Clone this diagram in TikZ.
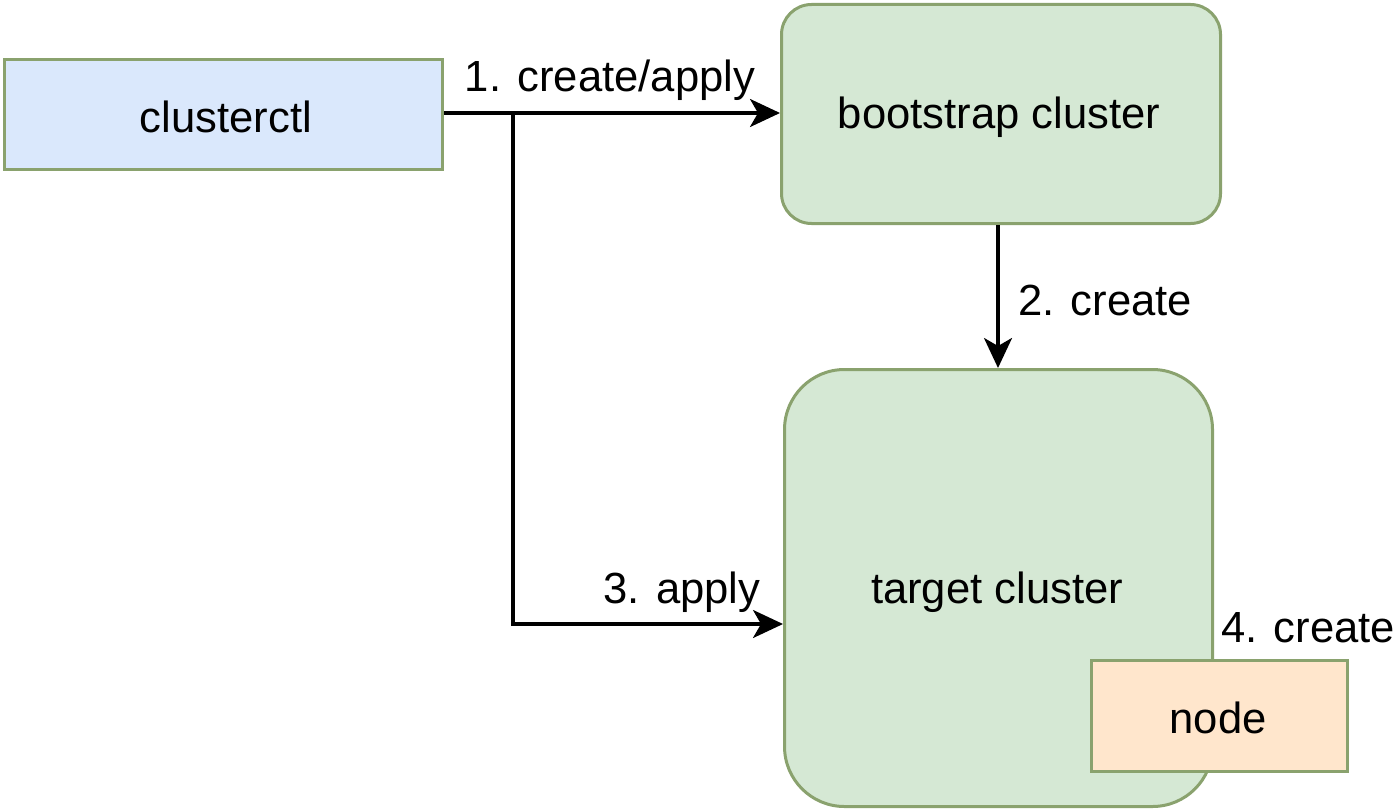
\documentclass[tikz,border=0pt]{standalone}
\usepackage{fontspec}
\setmainfont{Liberation Sans}
\usetikzlibrary{arrows.meta}
\definecolor{strk}{RGB}{138,162,110}
\definecolor{bluef}{RGB}{218,232,252}
\definecolor{greenf}{RGB}{213,232,212}
\definecolor{orangef}{RGB}{255,230,204}
\tikzset{
  box/.style={draw=strk, line width=1.5pt, inner sep=0pt},
  conn/.style={line width=1.6pt, -{Stealth[length=15pt,width=14pt,inset=4pt]}},
  lbl/.style={font=\fontsize{21.8pt}{26pt}\selectfont, inner sep=0pt}
}
\begin{document}
\begin{tikzpicture}[x=0.5pt,y=-0.5pt]
\useasboundingbox (0,0) rectangle (1400,808);
\node[box, fill=bluef, minimum width=219pt, minimum height=55pt, anchor=north west] (cc) at (3,58) {};
\node[lbl] at (226,117) {clusterctl};
\node[box, fill=greenf, rounded corners=15pt, minimum width=219.5pt, minimum height=109.5pt, anchor=north west] (bc) at (780,3) {};
\node[lbl] at (999,117) {bootstrap cluster};
\node[box, fill=greenf, rounded corners=30pt, minimum width=214pt, minimum height=218.5pt, anchor=north west] (tc) at (783,368) {};
\node[lbl] at (997,592) {target cluster};
\node[box, fill=orangef, minimum width=128pt, minimum height=55.5pt, anchor=north west] (nd) at (1090,659) {};
\node[lbl] at (1218,718) {node};
\coordinate (j) at (513,113);
\coordinate (k) at (513,624);
\coordinate (v) at (998,300);
\draw[conn] (cc.east |- j) -- (bc.west |- j);
\draw[conn] (j) -- (k) -- (tc.west |- k);
\draw[conn] (v |- bc.south) -- (v |- tc.north);
\node[lbl] at (610,80) {1. create/apply};
\node[lbl] at (682,592) {3. apply};
\node[lbl, anchor=west] at (1018,300) {2. create};
\node[lbl, anchor=west] at (1221,628) {4. create};
\end{tikzpicture}
\end{document}
